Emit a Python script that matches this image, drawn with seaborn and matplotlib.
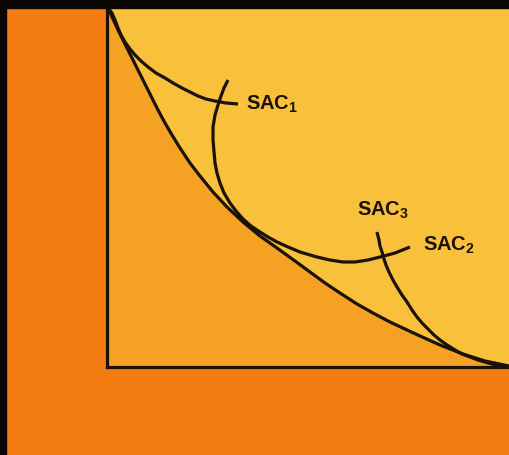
import matplotlib
matplotlib.use("Agg")
import matplotlib.pyplot as plt
from matplotlib.patches import Rectangle
import seaborn as sns

sns.set_theme(style="white")
plt.rcParams['font.family'] = ['Liberation Sans', 'DejaVu Sans']
plt.rcParams['mathtext.fontset'] = 'custom'
plt.rcParams['mathtext.rm'] = 'Liberation Sans:bold'
plt.rcParams['mathtext.bf'] = 'Liberation Sans:bold'

# curves (output on x, unit cost on y, both 0-100)
lac_x = [0.25, 1.49, 2.74, 3.98, 5.22, 6.47, 7.96, 9.45, 11.19, 12.69, 14.43, 16.17, 18.16, 20.65,
         23.13, 26.37, 29.85, 33.83, 38.06, 42.29, 46.77, 50.50, 54.23, 57.96, 62.19, 66.17, 70.40,
         74.13, 77.86, 82.84, 88.56, 94.03, 100.0]
lac_y = [100.0, 96.94, 93.87, 91.09, 88.30, 85.52, 82.17, 78.83, 74.93, 71.59, 67.97, 64.62, 61.00, 56.82,
         53.20, 48.75, 44.57, 40.39, 36.49, 33.15, 29.53, 26.46, 23.40, 20.61, 17.55, 15.04, 12.53,
         10.58, 8.64, 6.13, 3.62, 1.67, 0.28]

sac1_x = [0.25, 1.24, 1.99, 2.74, 3.48, 4.48, 5.72, 6.97, 8.46, 10.20, 12.19, 14.43, 16.42, 18.66,
          20.65, 22.64, 24.63, 26.87, 29.60, 32.59]
sac1_y = [100.0, 98.61, 96.66, 94.43, 92.48, 90.53, 88.58, 86.91, 85.24, 83.57, 81.89, 80.50, 79.11, 77.72,
          76.60, 75.49, 74.65, 74.09, 73.54, 73.26]

sac2_x = [30.10, 29.10, 28.36, 27.61, 26.87, 26.37, 26.37, 26.62, 26.87, 27.36, 28.11, 29.10, 30.60, 32.09,
          33.83, 35.82, 38.06, 40.05, 42.29, 45.02, 48.01, 52.24, 55.47, 58.71, 61.69, 64.93, 67.91,
          71.64, 75.37]
sac2_y = [79.94, 77.72, 75.49, 72.98, 70.19, 66.85, 63.23, 59.89, 56.82, 54.04, 51.25, 48.47, 45.68, 43.45,
          41.23, 39.28, 37.60, 36.21, 34.82, 33.43, 32.03, 30.64, 29.80, 29.25, 29.25, 29.80, 30.64,
          31.75, 33.43]

sac3_x = [67.16, 67.66, 67.91, 68.41, 68.91, 69.40, 70.15, 71.14, 72.14, 73.38, 74.63, 75.87, 77.11, 78.36,
          79.85, 81.34, 82.84, 84.58, 86.57, 88.31, 90.30, 92.29, 94.03, 95.77, 97.76]
sac3_y = [37.60, 35.38, 33.70, 32.03, 30.08, 28.41, 26.46, 24.23, 22.28, 20.06, 18.11, 15.88, 13.93, 12.26,
          10.58, 8.91, 7.52, 6.13, 4.74, 3.62, 2.79, 1.95, 1.39, 0.84, 0.28]

labels = [r"$\mathbf{SAC_1}$", r"$\mathbf{SAC_3}$", r"$\mathbf{SAC_2}$"]
label_x = [34.6, 62.2, 78.6]
label_y = [73.3, 43.5, 34.0]

W, H = 509, 455
fig = plt.figure(figsize=(W / 100, H / 100), dpi=100)
fig.patch.set_facecolor('#F57C13')

ax = fig.add_axes([107 / W, 88 / H, 402 / W, 359 / H])
ax.set_facecolor('#F8C03B')
ink = '#1a1208'

ax.fill_between(lac_x, 0, lac_y, color='#F5A124', lw=0)
for cx, cy in [(lac_x, lac_y), (sac1_x, sac1_y), (sac2_x, sac2_y), (sac3_x, sac3_y)]:
    sns.lineplot(x=cx, y=cy, sort=False, estimator=None, color=ink, lw=2.3, ax=ax,
                 solid_capstyle='butt', solid_joinstyle='round')

for t, tx, ty in zip(labels, label_x, label_y):
    ax.text(tx, ty, t, fontsize=14.5, color=ink, ha='left', va='center')

ax.set_xlim(0, 100)
ax.set_ylim(0, 100)
ax.set_xticks([])
ax.set_yticks([])
for s in ['top', 'right']:
    ax.spines[s].set_visible(False)
for s in ['left', 'bottom']:
    ax.spines[s].set_color(ink)
    ax.spines[s].set_linewidth(2.3)

# dark frame strips at top and left edge of the slide
fig.add_artist(Rectangle((0, 1 - 8 / H), 1, 8 / H, transform=fig.transFigure, color='#0a0602', zorder=10))
fig.add_artist(Rectangle((0, 0), 6 / W, 1, transform=fig.transFigure, color='#0a0602', zorder=10))

fig.savefig('out.png', dpi=100, facecolor=fig.get_facecolor())
